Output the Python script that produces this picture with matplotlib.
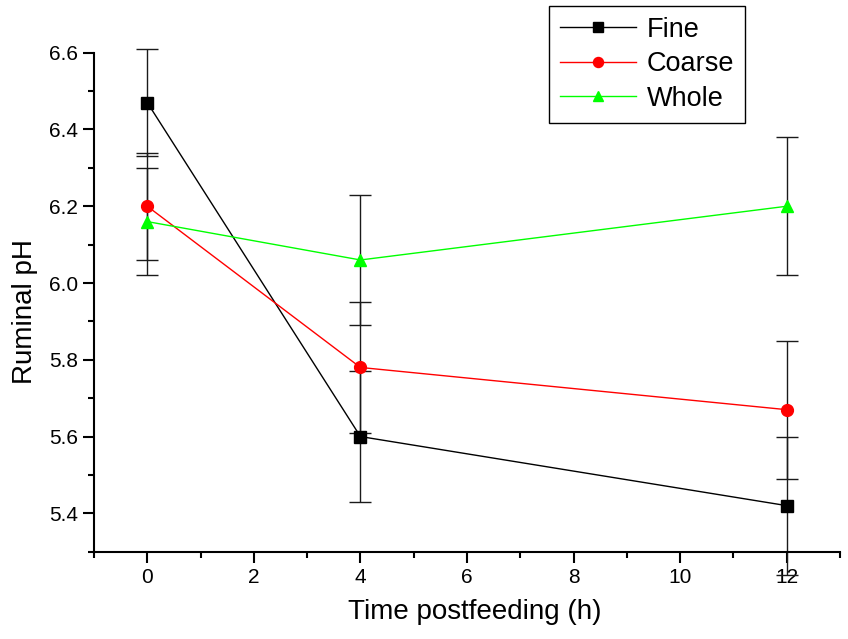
import matplotlib
matplotlib.use("Agg")
import matplotlib.pyplot as plt
from matplotlib.ticker import MultipleLocator, FormatStrFormatter

plt.rcParams['font.family'] = ['Liberation Sans', 'DejaVu Sans']

time_h = [0, 4, 12]
series_names = ["Fine", "Coarse", "Whole"]
fine = [6.47, 5.60, 5.42]
coarse = [6.20, 5.78, 5.67]
whole = [6.16, 6.06, 6.20]
fine_err = [0.14, 0.17, 0.18]
coarse_err = [0.14, 0.17, 0.18]
whole_err = [0.14, 0.17, 0.18]

colors = ["#000000", "#ff0000", "#00ff00"]
markers = ["s", "o", "^"]
msizes = [8, 8.5, 9]

fig = plt.figure(figsize=(8.48, 6.39), dpi=100)
ax = fig.add_axes([94/848, 1-551.7/639, (840-94)/848, (551.7-52.7)/639])

for vals, errs, c, m, ms, name in zip([fine, coarse, whole],
                                      [fine_err, coarse_err, whole_err],
                                      colors, markers, msizes, series_names):
    eb = ax.errorbar(time_h, vals, yerr=errs, fmt='none', ecolor='#1a1a1a',
                     elinewidth=1.0, capsize=8, capthick=1.0, zorder=2)
    for child in eb.get_children():
        child.set_clip_on(False)
    ax.plot(time_h, vals, color=c, lw=1.0, marker=m, markersize=ms,
            markeredgecolor=c, markerfacecolor=c, label=name, zorder=3)

ax.set_xlim(-1, 13)
ax.set_ylim(5.3, 6.6)
ax.xaxis.set_major_locator(MultipleLocator(2))
ax.xaxis.set_minor_locator(MultipleLocator(1))
ax.yaxis.set_major_locator(MultipleLocator(0.2))
ax.yaxis.set_minor_locator(MultipleLocator(0.1))
ax.yaxis.set_major_formatter(FormatStrFormatter('%.1f'))

for s in ['top', 'right']:
    ax.spines[s].set_visible(False)
for s in ['left', 'bottom']:
    ax.spines[s].set_linewidth(1.5)

ax.tick_params(axis='both', which='major', direction='out', length=8,
               width=1.5, labelsize=15, pad=3.5)
ax.tick_params(axis='both', which='minor', direction='out', length=4,
               width=1.5)

ax.set_xlabel("Time postfeeding (h)", fontsize=20)
ax.set_ylabel("Ruminal pH", fontsize=20)
ax.xaxis.set_label_coords(0.5106, -0.095)
ax.yaxis.set_label_coords(-0.0757, 0.481)

leg = ax.legend(loc='upper left', bbox_to_anchor=(549.3/848, 1-5.7/639),
                bbox_transform=fig.transFigure, fontsize=19.5, frameon=True,
                fancybox=False, edgecolor='black', framealpha=1,
                handlelength=2.8, handletextpad=0.4, borderpad=0.4,
                labelspacing=0.32, borderaxespad=0, markerscale=0.85)
leg.get_frame().set_linewidth(1.0)

fig.savefig("out.png", dpi=100)
